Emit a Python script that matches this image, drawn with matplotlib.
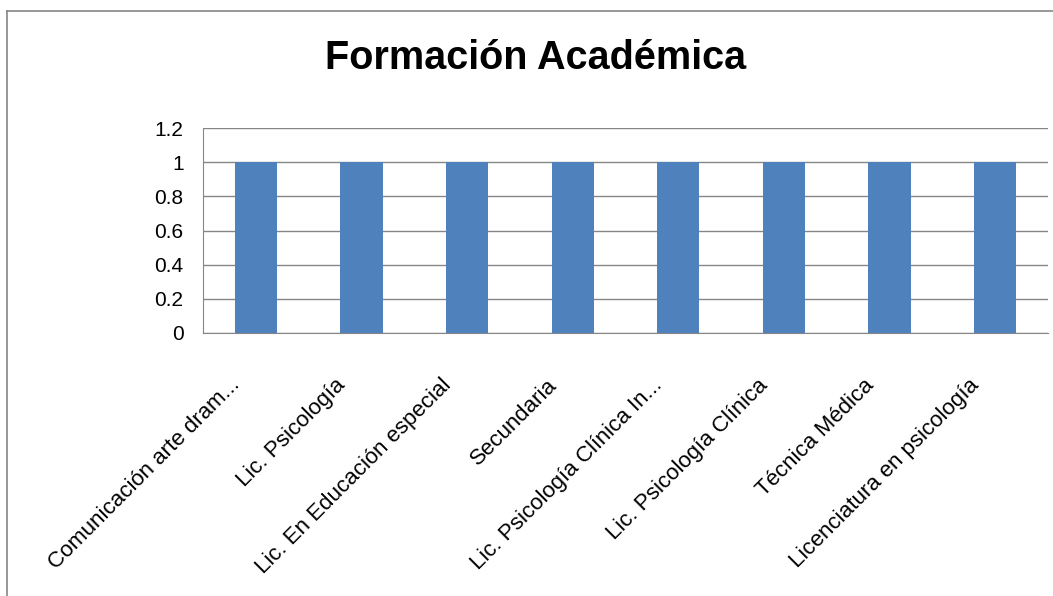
import numpy as np
import matplotlib.pyplot as plt
from matplotlib.lines import Line2D
from matplotlib.transforms import ScaledTranslation

categorias = ["Comunicación arte dram...", "Lic. Psicología", "Lic. En Educación especial",
              "Secundaria", "Lic. Psicología Clínica In...", "Lic. Psicología Clínica",
              "Técnica Médica", "Licenciatura en psicología"]
valores = [1, 1, 1, 1, 1, 1, 1, 1]
yticks = [0, 0.2, 0.4, 0.6, 0.8, 1, 1.2]
ytick_labels = ["0", "0.2", "0.4", "0.6", "0.8", "1", "1.2"]

plt.rcParams['font.family'] = ['Liberation Sans', 'DejaVu Sans']

W, H = 1053, 596
fig = plt.figure(figsize=(W / 100, H / 100), dpi=100)
ax = fig.add_axes([203 / W, 1 - 333 / H, (1048 - 203) / W, (333 - 128) / H])

x = np.arange(len(categorias))
ax.bar(x, valores, width=0.4, color="#4F81BD", zorder=3)
ax.set_xlim(-0.5, len(categorias) - 0.5)
ax.set_ylim(0, 1.2)
ax.set_yticks(yticks)
ax.set_yticklabels(ytick_labels, fontsize=15)
ax.yaxis.grid(True, color="#868686", linewidth=1, zorder=0)
ax.tick_params(axis="y", length=0, pad=14)
ax.tick_params(axis="x", length=0, pad=0)
ax.set_xticks(x)
ax.set_xticklabels(categorias, rotation=45, ha="right", va="center",
                   rotation_mode="anchor", fontsize=16)
desplazamiento = ScaledTranslation(-19 / 100, -49 / 100, fig.dpi_scale_trans)
for lbl in ax.get_xticklabels():
    lbl.set_transform(lbl.get_transform() + desplazamiento)
for s in ["top", "right"]:
    ax.spines[s].set_visible(False)
for s in ["left", "bottom"]:
    ax.spines[s].set_color("#868686")

fig.text(536 / W, 1 - 58 / H, "Formación Académica", ha="center", va="center",
         fontsize=28.5, fontweight="bold")

# borde del gráfico
fig.add_artist(Line2D([7 / W, 7 / W], [0, 1 - 11 / H], color="#868686", lw=1.2,
                      transform=fig.transFigure))
fig.add_artist(Line2D([7 / W, 1], [1 - 11 / H, 1 - 11 / H], color="#868686", lw=1.2,
                      transform=fig.transFigure))

fig.savefig("out.png", dpi=100)
